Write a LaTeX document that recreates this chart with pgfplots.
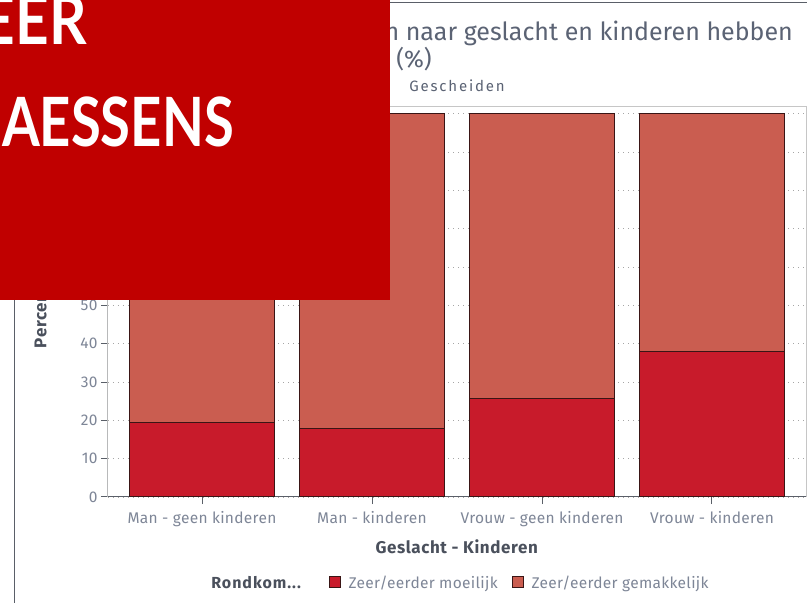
\documentclass[border=0pt]{standalone}
\usepackage{pgfplots}
\pgfplotsset{compat=1.18}
\usepackage{fontspec}
\setmainfont{Fira Sans}
\newfontfamily\boxfont{Lato}
\definecolor{dred}{HTML}{C81B2B}
\definecolor{lred}{HTML}{CA5D50}
\definecolor{boxred}{HTML}{C00000}
\definecolor{edge}{HTML}{3A1515}
\definecolor{ticktxt}{HTML}{7E8697}
\definecolor{titletxt}{HTML}{5B6374}
\definecolor{labtxt}{HTML}{4A505C}
\definecolor{axisdark}{HTML}{5A5F68}
\begin{document}
\begin{tikzpicture}[x=1pt,y=1pt]
\useasboundingbox (0,0) rectangle (807,603);
\clip (0,0) rectangle (807,603);
\fill[white] (0,0) rectangle (807,603);
\draw[color=axisdark, line width=1pt] (14,600) rectangle (830,-20);
\node[anchor=base east, text=titletxt, font=\fontsize{25}{29}\selectfont, inner sep=0] at (793,562) {Rondkomen naar geslacht en kinderen hebben};
\node[anchor=base, text=titletxt, font=\fontsize{24}{28}\selectfont, inner sep=0] at (414,535) {(\%)};
\node[anchor=base, text=titletxt, font=\fontsize{15}{18}\selectfont\addfontfeature{LetterSpace=12}, inner sep=0] at (457,511) {Gescheiden};
\begin{axis}[
  at={(108pt,106pt)}, anchor=south west,
  scale only axis, width=698pt, height=390pt,
  xmin=-0.553, xmax=3.553, ymin=0, ymax=101.8,
  ybar stacked, bar width=0.853,
  xtick={0,1,2,3},
  xticklabels={Man - geen kinderen, Man - kinderen, Vrouw - geen kinderen, Vrouw - kinderen},
  ytick={0,10,...,100},
  xtick pos=lower, ytick pos=lower,
  ymajorgrids, grid style={dash pattern=on 1pt off 4pt, gray!70, line width=0.8pt},
  axis line style={draw=gray!45, line width=1pt},
  tick style={draw=axisdark, line width=1pt},
  tick align=outside, major tick length=7pt,
  tick label style={font=\fontsize{15.5}{18}\selectfont\addfontfeature{LetterSpace=2}, text=ticktxt},
  xticklabel style={yshift=-4pt},
  /pgf/number format/assume math mode=true,
  xlabel={\textbf{Geslacht - Kinderen}},
  xlabel style={font=\fontsize{17}{20}\selectfont\addfontfeature{LetterSpace=3.5}, text=labtxt, at={(axis description cs:0.5,-0.1436)}, anchor=base},
  ylabel={\textbf{Percentage}},
  ylabel style={font=\fontsize{17}{20}\selectfont\addfontfeature{LetterSpace=3.5}, text=labtxt, at={(axis description cs:-0.094,0.5)}, anchor=center},
  legend columns=3,
  legend style={at={(axis description cs:0.5,-0.2205)}, anchor=center, draw=none, fill=none,
    font=\fontsize{15.5}{18}\selectfont\addfontfeature{LetterSpace=2}, text=ticktxt,
    /tikz/every odd column/.append style={column sep=6pt},
    /tikz/every even column/.append style={column sep=12pt}},
  legend image code/.code={\draw[#1,draw=edge,line width=0.8pt] (0pt,-4pt) rectangle (11pt,7pt);},
]
\addlegendimage{empty legend}
\addlegendentry{\textcolor{labtxt}{\fontsize{16}{18}\selectfont\addfontfeature{LetterSpace=6}\textbf{Rondkom...}}\hspace*{13pt}}
\addplot[fill=dred, draw=edge, line width=1pt] coordinates {(0,19.4) (1,17.9) (2,25.6) (3,38.1)};
\addlegendentry{Zeer/eerder moeilijk}
\addplot[fill=lred, draw=edge, line width=1pt] coordinates {(0,80.6) (1,82.1) (2,74.4) (3,61.9)};
\addlegendentry{Zeer/eerder gemakkelijk}
\draw[axisdark, line width=1pt] (rel axis cs:0,1) -- (rel axis cs:0,0) -- (rel axis cs:1,0);
\end{axis}
\fill[boxred] (0,303) rectangle (390,603);
\node[anchor=base east, text=white, font=\boxfont\bfseries\fontsize{68}{68}\selectfont, inner sep=0] at (87,558) {\scalebox{0.86}[1]{EER}};
\node[anchor=base east, text=white, font=\boxfont\bfseries\fontsize{68}{68}\selectfont, inner sep=0] at (234,456) {\scalebox{0.8}[1]{AESSENS}};
\end{tikzpicture}
\end{document}
